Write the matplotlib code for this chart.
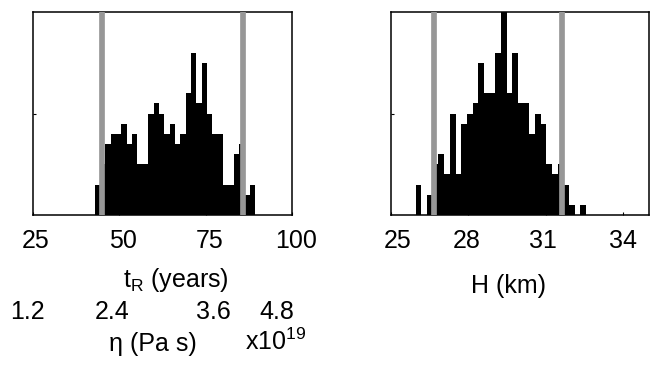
import numpy as np
import matplotlib
matplotlib.use('Agg')
import matplotlib.pyplot as plt
from matplotlib.transforms import ScaledTranslation

plt.rcParams['font.family'] = ['Liberation Sans', 'DejaVu Sans']
plt.rcParams['mathtext.fontset'] = 'custom'
plt.rcParams['mathtext.rm'] = 'Liberation Sans'
plt.rcParams['mathtext.it'] = 'Liberation Sans:italic'

### data ###

## relaxation time histogram (years)
tr_lo, tr_hi = 42.87, 89.3
tr_counts = [3, 5, 7, 8, 8, 9, 7, 8, 5, 5, 10, 11, 10, 8, 9, 7, 8, 12, 16, 11,
             15, 10, 8, 8, 3, 3, 6, 7, 2, 3]
tr_bounds = [45.07, 85.8]
tr_ticks = [25, 50, 75, 100]

## viscosity labels that sit under the t_R ticks
eta_labels = ['1.2', '2.4', '3.6', '4.8']

## thickness histogram (km)
h_lo, h_hi = 25.96, 32.56
h_counts = [3, 0, 2, 5, 6, 4, 10, 4, 9, 10, 11, 15, 12, 12, 16, 20, 12, 16, 11, 11,
            8, 10, 9, 5, 4, 5, 3, 1, 0, 1]
h_bounds = [26.66, 31.63]
h_ticks = [25, 28, 31, 34]

W, H = 655, 365
fig = plt.figure(figsize=(W / 100, H / 100), dpi=100)


def px(x, y):
    # pixel position -> figure fraction
    return x / W, 1 - y / H


def make_panel(rect, lo, hi, counts, bounds, xlim, ticks, shifts):
    ax = fig.add_axes(rect)
    edges = np.linspace(lo, hi, len(counts) + 1)
    ax.stairs(counts, edges, fill=True, color='black', lw=0)
    for b in bounds:
        ax.axvline(b, color='#979797', lw=4.1, zorder=3)
    ax.set_xlim(*xlim)
    ax.set_ylim(0, 20)
    ax.set_xticks(ticks)
    ax.set_yticks([10])
    ax.set_yticklabels([])
    ax.tick_params(direction='in', length=2.5, width=0.8, labelsize=18, pad=10)
    ax.tick_params(axis='x', bottom=True, top=False)
    ax.tick_params(axis='y', left=True, right=False)
    for s in ax.spines.values():
        s.set_linewidth(1.1)
    # labels in the original sit a few pixels right of their ticks
    for lab, dx in zip(ax.get_xticklabels(), shifts):
        lab.set_transform(lab.get_transform() + ScaledTranslation(dx / 100, 0, fig.dpi_scale_trans))
    return ax


ax1 = make_panel([33 / W, 1 - 215 / H, 259 / W, 203 / H], tr_lo, tr_hi, tr_counts,
                 tr_bounds, (25, 100), tr_ticks, [3, 4, 4, 4])
ax2 = make_panel([391 / W, 1 - 215 / H, 258 / W, 203 / H], h_lo, h_hi, h_counts,
                 h_bounds, (25, 35), h_ticks, [7, -2, -3, 0])

# axis titles
fig.text(*px(176, 280), 't$_{\\rm R}$ (years)', fontsize=18, ha='center', va='center')
fig.text(*px(508, 286), 'H (km)', fontsize=18, ha='center', va='center')

# second scale under the left panel
for lab, x in zip(eta_labels, [27, 112, 213, 277]):
    fig.text(*px(x, 312), lab, fontsize=18, ha='center', va='center')
fig.text(*px(153, 344), 'η (Pa s)', fontsize=18, ha='center', va='center')
fig.text(*px(276, 342), 'x10$^{19}$', fontsize=18, ha='center', va='center')

fig.savefig('out.png', dpi=100)
